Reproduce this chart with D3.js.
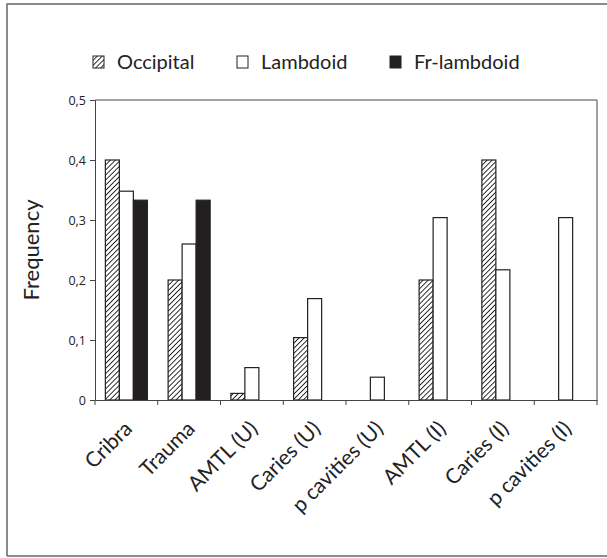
<!DOCTYPE html>
<html><head><meta charset="utf-8">
<script src="https://cdn.jsdelivr.net/npm/d3@7"></script>
<style>body{margin:0;background:#fff}svg{display:block}</style>
</head><body>
<script>
const categories = ["Cribra","Trauma","AMTL (U)","Caries (U)","p cavities (U)","AMTL (I)","Caries (I)","p cavities (I)"];
const seriesNames = ["Occipital","Lambdoid","Fr-lambdoid"];
const occipital = [0.4, 0.2, 0.011, 0.104, 0, 0.2, 0.4, 0];
const lambdoid = [0.348, 0.26, 0.054, 0.169, 0.038, 0.304, 0.217, 0.304];
const frLambdoid = [0.333, 0.333, 0, 0, 0, 0, 0, 0];
const yTicks = [0, 0.1, 0.2, 0.3, 0.4, 0.5];

const W = 607, H = 558;
const svg = d3.select("body").append("svg").attr("width", W).attr("height", H);
const defs = svg.append("defs");
const pat = defs.append("pattern").attr("id","hatch").attr("patternUnits","userSpaceOnUse")
  .attr("width",3.6).attr("height",3.6).attr("patternTransform","rotate(45)");
pat.append("rect").attr("width",3.6).attr("height",3.6).attr("fill","#fff");
pat.append("line").attr("x1",0).attr("y1",0).attr("x2",0).attr("y2",3.6).attr("stroke","#1a1a1a").attr("stroke-width",1.8);

// outer frame
svg.append("path").attr("d",`M7,${H-2} L7,4 L${W+2},4`).attr("fill","none").attr("stroke","#666").attr("stroke-width",1.5);
svg.append("line").attr("x1",7).attr("x2",W).attr("y1",H-2).attr("y2",H-2).attr("stroke","#666").attr("stroke-width",1.5);

const m = {l:95, r:597, t:100, b:400};
const x = d3.scaleBand().domain(categories).range([m.l, m.r]).paddingInner(0).paddingOuter(0);
const y = d3.scaleLinear().domain([0,0.5]).range([m.b, m.t]);
const inner = d3.scaleBand().domain(seriesNames).range([0, x.bandwidth()]).paddingInner(0).paddingOuter(0.74);

const fills = {"Occipital":"url(#hatch)","Lambdoid":"#fff","Fr-lambdoid":"#231f20"};
const dataBy = {"Occipital":occipital,"Lambdoid":lambdoid,"Fr-lambdoid":frLambdoid};

// plot frame top/right
svg.append("path").attr("d",`M${m.l},${m.t} L${m.r},${m.t} L${m.r},${m.b}`).attr("fill","none").attr("stroke","#444").attr("stroke-width",1);

seriesNames.forEach(s => {
  svg.append("g").selectAll("rect").data(categories.map((c,i)=>({c, v:dataBy[s][i]})).filter(d=>d.v>0))
    .join("rect")
    .attr("x", d => x(d.c) + inner(s))
    .attr("width", inner.bandwidth())
    .attr("y", d => y(d.v))
    .attr("height", d => y(0) - y(d.v))
    .attr("fill", fills[s]).attr("stroke","#222").attr("stroke-width",1.2);
});

// y axis
const ya = svg.append("g").attr("transform",`translate(${m.l},0)`)
  .call(d3.axisLeft(y).tickValues(yTicks).tickSize(5).tickPadding(4).tickFormat(d => d===0 ? "0" : d3.format(".1f")(d).replace(".",",")));
ya.selectAll("text").attr("font-family","'Open Sans', sans-serif").attr("font-size",12.5).attr("fill","#222");
ya.selectAll("line,path").attr("stroke","#444");

// x axis
const xa = svg.append("g").attr("transform",`translate(0,${m.b})`)
  .call(d3.axisBottom(x).tickSize(0).tickFormat(""));
xa.select("path").attr("stroke","#444");
const edges = categories.map(c => x(c)).concat([m.r]);
svg.append("g").selectAll("line").data(edges).join("line")
  .attr("x1",d=>d).attr("x2",d=>d).attr("y1",m.b).attr("y2",m.b+5).attr("stroke","#444");

svg.append("g").selectAll("text").data(categories).join("text")
  .attr("transform", d => `translate(${x(d)+x.bandwidth()/2+7},${m.b+30}) rotate(-45)`)
  .attr("text-anchor","end").attr("font-family","Lato, sans-serif").attr("font-size",21).attr("fill","#222")
  .text(d => d);

svg.append("text").attr("transform","translate(39,250) rotate(-90)").attr("text-anchor","middle")
  .attr("font-family","Lato, sans-serif").attr("font-size",22).attr("fill","#222").text("Frequency");

// legend
const legX = [93, 237, 390];
const lg = svg.append("g");
seriesNames.forEach((s,i) => {
  lg.append("rect").attr("x",legX[i]).attr("y",56).attr("width",11).attr("height",12)
    .attr("fill",fills[s]).attr("stroke","#222").attr("stroke-width",1);
  lg.append("text").attr("x",legX[i]+24).attr("y",69).attr("font-family","Lato, sans-serif")
    .attr("font-size",20).attr("fill","#222").text(s);
});
</script>
</body></html>
